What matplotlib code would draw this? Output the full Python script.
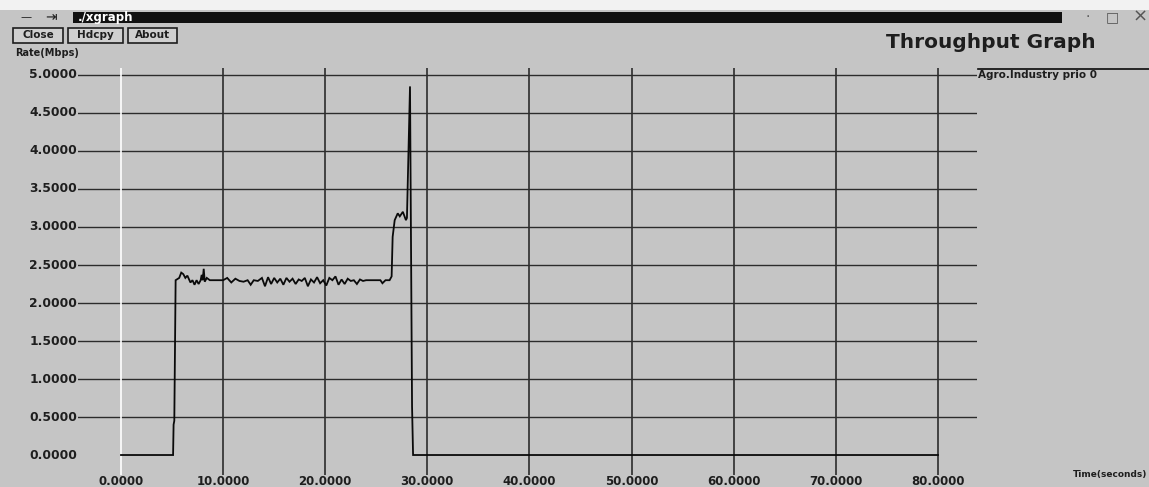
import matplotlib.pyplot as plt
from matplotlib.patches import Rectangle

W, H = 1149, 487

# throughput trace (seconds, Mbps)
t = [0.0, 5.1, 5.15, 5.22, 5.35, 5.7, 5.9, 6.1, 6.3, 6.5, 6.8, 7.0, 7.2, 7.4, 7.6,
     7.8, 7.9, 8.0, 8.1, 8.2, 8.4, 8.7, 9.5, 10.0, 10.4, 10.8, 11.2, 11.6, 12.0,
     12.4, 12.7, 13.0, 13.4, 13.8, 14.1, 14.4, 14.7, 15.0, 15.3, 15.6, 15.9, 16.2,
     16.5, 16.8, 17.1, 17.4, 17.7, 18.0, 18.3, 18.6, 18.9, 19.2, 19.5, 19.8, 20.1,
     20.4, 20.7, 21.0, 21.3, 21.6, 21.9, 22.2, 22.5, 22.8, 23.1, 23.4, 23.7, 24.0,
     25.4, 25.6, 25.9, 26.3, 26.5, 26.6, 26.8, 27.1, 27.3, 27.6, 27.9, 28.0, 28.1,
     28.3, 28.5, 28.6, 80.0]
rate = [0.0, 0.0, 0.40, 0.45, 2.30, 2.33, 2.40, 2.38, 2.33, 2.36, 2.27, 2.30, 2.24,
        2.30, 2.25, 2.30, 2.37, 2.30, 2.45, 2.28, 2.33, 2.30, 2.30, 2.30, 2.33, 2.27,
        2.32, 2.29, 2.28, 2.30, 2.24, 2.30, 2.29, 2.33, 2.22, 2.34, 2.25, 2.33, 2.27,
        2.32, 2.24, 2.33, 2.28, 2.32, 2.25, 2.31, 2.29, 2.33, 2.22, 2.31, 2.27, 2.34,
        2.26, 2.30, 2.23, 2.33, 2.30, 2.35, 2.24, 2.31, 2.25, 2.32, 2.29, 2.30, 2.25,
        2.31, 2.29, 2.30, 2.30, 2.26, 2.30, 2.30, 2.35, 2.87, 3.09, 3.18, 3.14, 3.20,
        3.09, 3.12, 3.70, 4.85, 0.64, 0.0, 0.0]

xticks = [0, 10, 20, 30, 40, 50, 60, 70, 80]
yticks = [0.0, 0.5, 1.0, 1.5, 2.0, 2.5, 3.0, 3.5, 4.0, 4.5, 5.0]
series_name = "Agro.Industry prio 0"

bg = "#c5c5c5"
ink = "#1e1e1e"


def fx(x):
    return x / W


def fy(y):
    return 1 - y / H


fig = plt.figure(figsize=(W / 100, H / 100), dpi=100, facecolor=bg)

# window decorations
fig.patches.append(Rectangle((0, fy(10)), 1, 10 / H, transform=fig.transFigure,
                             facecolor="#f2f2f2", edgecolor="none"))
fig.patches.append(Rectangle((fx(73), fy(23)), (1062 - 73) / W, 11 / H,
                             transform=fig.transFigure, facecolor="#111111",
                             edgecolor="none"))
fig.text(fx(78), fy(17.5), "./xgraph", color="white", fontsize=8.5,
         fontweight="bold", va="center", ha="left")
fig.text(fx(20), fy(17), "\u2014", color=ink, fontsize=8, va="center")
fig.text(fx(45), fy(17), "\u21e5", color=ink, fontsize=10, va="center")
fig.text(fx(1088), fy(17), "\u00b7", color="#555555", fontsize=10, va="center", ha="center")
fig.text(fx(1112), fy(17), "\u25a1", color="#555555", fontsize=10, va="center", ha="center")
fig.text(fx(1140), fy(17), "\u00d7", color="#555555", fontsize=13, va="center", ha="center")

for label, x0, x1 in [("Close", 13, 63), ("Hdcpy", 68, 123), ("About", 128, 177)]:
    fig.patches.append(Rectangle((fx(x0), fy(43)), (x1 - x0) / W, 15 / H,
                                 transform=fig.transFigure, facecolor="#d0d0d0",
                                 edgecolor=ink, linewidth=1.2))
    fig.text(fx((x0 + x1) / 2), fy(35.5), label, color=ink, fontsize=7.5,
             fontweight="bold", ha="center", va="center")

fig.text(fx(15), fy(53), "Rate(Mbps)", color=ink, fontsize=7, fontweight="bold",
         va="center", ha="left")
fig.text(fx(991), fy(43), "Throughput Graph", color=ink, fontsize=14.5,
         fontweight="bold", ha="center", va="center")
fig.text(fx(1147), fy(474), "Time(seconds)", color=ink, fontsize=6.5,
         fontweight="bold", ha="right", va="center")

# plot region (grid runs a bit past the data range on every side)
ax = fig.add_axes([fx(78), fy(475), (977 - 78) / W, (475 - 68) / H])
ax.set_xlim(-4.21, 83.82)
ax.set_ylim(-0.263, 5.092)
ax.axis("off")

for v in yticks:
    if v > 0:
        ax.axhline(v, color="#2c2c2c", lw=1.0, zorder=1)
    ax.text(-4.3, v, f"{v:.4f}", ha="right", va="center", fontsize=8.8,
            fontweight="bold", color=ink, clip_on=False)

for s in xticks:
    ax.axvline(s, color="white" if s == 0 else "#2c2c2c", lw=1.2, zorder=1)
    ax.text(s, -0.355, f"{s:.4f}", ha="center", va="center", fontsize=8.5,
            fontweight="bold", color=ink, clip_on=False)

ax.plot(t, rate, color="#0a0a0a", lw=1.3, zorder=3, solid_joinstyle="miter")

# legend entry: sample line above the name
fig.add_artist(plt.Line2D([fx(978), fx(1149)], [fy(69), fy(69)], color="#0a0a0a",
                          lw=1.2, transform=fig.transFigure))
fig.text(fx(978), fy(75.5), series_name, color=ink, fontsize=7.5, fontweight="bold",
         ha="left", va="center")

fig.savefig("out.png", dpi=100, facecolor=bg)
